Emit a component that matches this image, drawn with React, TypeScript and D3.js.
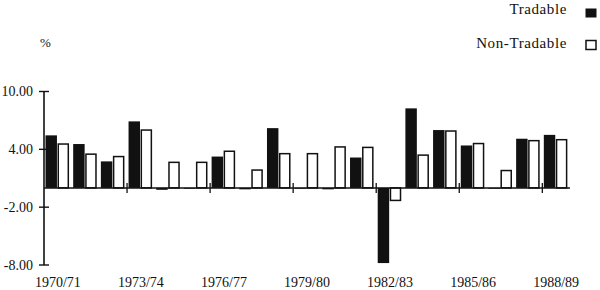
import React from "react";
import * as d3 from "d3";

const years = [
  "1970/71", "1971/72", "1972/73", "1973/74", "1974/75", "1975/76", "1976/77",
  "1977/78", "1978/79", "1979/80", "1980/81", "1981/82", "1982/83", "1983/84",
  "1984/85", "1985/86", "1986/87", "1987/88", "1988/89",
];
const tradable = [5.45, 4.55, 2.75, 6.9, -0.2, -0.05, 3.25, -0.15, 6.2, 0.0, -0.15, 3.15, -7.8, 8.25, 6.0, 4.4, -0.05, 5.1, 5.5];
const nonTradable = [4.55, 3.5, 3.25, 6.0, 2.65, 2.65, 3.8, 1.85, 3.55, 3.55, 4.25, 4.2, -1.3, 3.4, 5.9, 4.6, 1.8, 4.9, 5.0];
const yTicks = [10, 4, -2, -8];
const labeledYears = ["1970/71", "1973/74", "1976/77", "1979/80", "1982/83", "1985/86", "1988/89"];
const seriesNames = ["Tradable", "Non-Tradable"];

const W = 600;
const H = 290;
const FONT = "'Liberation Serif', 'Times New Roman', serif";

export default function App() {
  const x0 = d3.scaleBand<string>().domain(years).range([44, 570]).paddingInner(0).paddingOuter(0);
  const x1 = d3.scaleBand<string>().domain(seriesNames).range([1.5, 25]).paddingInner(0.05);
  const y = d3.scaleLinear().domain([-8, 10]).range([265, 91.5]);
  const y0 = y(0);

  return (
    <svg width={W} height={H} style={{ position: "absolute", left: 0, top: 0, background: "#fff" }} fontFamily={FONT}>
      {/* y axis */}
      <line x1={44} x2={44} y1={y(10)} y2={y(-8)} stroke="#111" strokeWidth={1.6} />
      {yTicks.map((t) => (
        <g key={t}>
          <line x1={39} x2={49} y1={y(t)} y2={y(t)} stroke="#111" strokeWidth={1.4} />
          <text x={33} y={y(t)} dy="0.35em" textAnchor="end" fontSize={14} fill="#111">
            {t.toFixed(2)}
          </text>
        </g>
      ))}
      <text x={40} y={47} fontSize={13} fill="#111">%</text>

      {/* bars */}
      {years.map((yr, i) => {
        const bx = x0(yr)!;
        const tv = tradable[i];
        const nv = nonTradable[i];
        const tx = bx + x1("Tradable")!;
        const nx = bx + x1("Non-Tradable")!;
        const bw = x1.bandwidth();
        return (
          <g key={yr}>
            <rect x={tx} y={Math.min(y(tv), y0)} width={bw} height={Math.max(Math.abs(y(tv) - y0), 0.8)} fill="#111" />
            <rect x={nx + 0.7} y={Math.min(y(nv), y0)} width={bw - 1.4} height={Math.abs(y(nv) - y0)} fill="#fff" stroke="#111" strokeWidth={1.5} />
          </g>
        );
      })}

      {/* baseline */}
      <line x1={44} x2={570} y1={y0} y2={y0} stroke="#111" strokeWidth={1.5} />
      {labeledYears.slice(1).map((yr) => (
        <line key={yr} x1={x0(yr)!} x2={x0(yr)!} y1={y0 - 5} y2={y0 + 5} stroke="#111" strokeWidth={1.3} />
      ))}

      {/* x labels */}
      {labeledYears.map((yr) => (
        <text key={yr} x={x0(yr)! + x0.bandwidth() / 2} y={287} textAnchor="middle" fontSize={14} fill="#111">
          {yr}
        </text>
      ))}

      {/* legend */}
      <text x={567} y={14} textAnchor="end" fontSize={15} letterSpacing={0.6} fill="#111">Tradable</text>
      <rect x={585.5} y={8.5} width={11} height={9} fill="#111" />
      <text x={567} y={48} textAnchor="end" fontSize={15} letterSpacing={0.6} fill="#111">Non-Tradable</text>
      <rect x={586} y={40.5} width={10} height={9} fill="#fff" stroke="#111" strokeWidth={1.5} />
    </svg>
  );
}
